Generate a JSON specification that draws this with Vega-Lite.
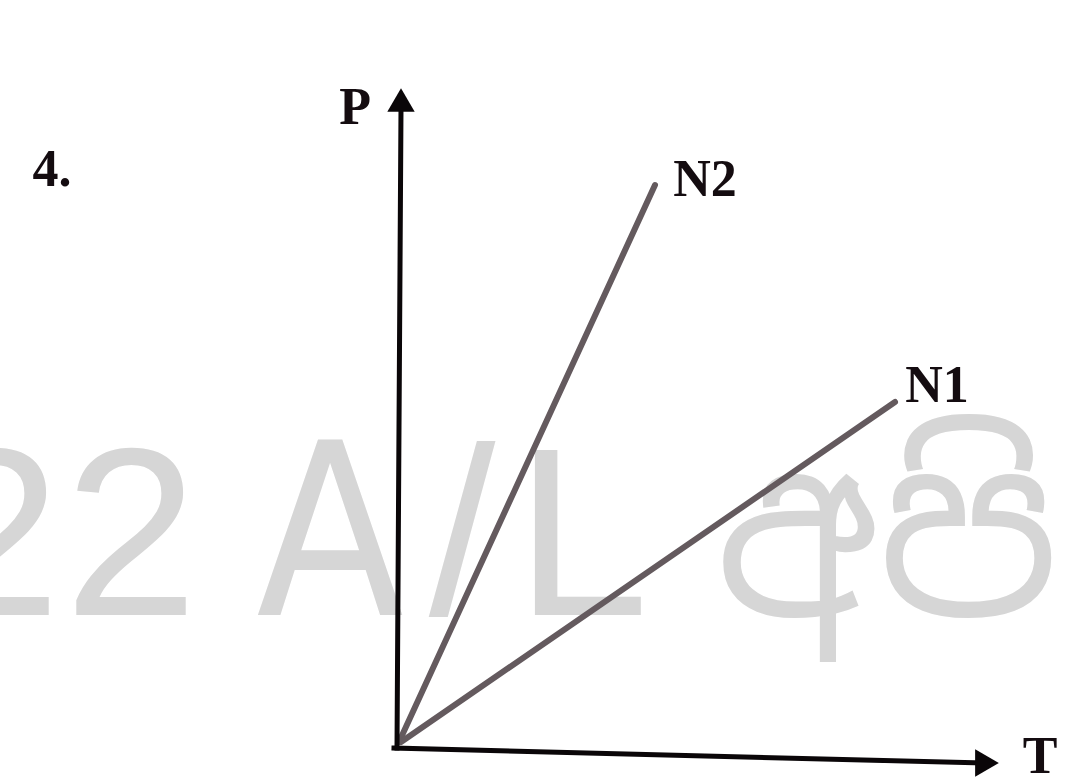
{
  "$schema": "https://vega.github.io/schema/vega-lite/v6.json",
  "width": 1073,
  "height": 782,
  "padding": 0,
  "autosize": {"type": "none"},
  "background": "white",
  "config": {"view": {"stroke": null}},
  "datasets": {
    "watermark": [
      {"text": "2", "font": "regular", "t": -403, "p": 133},
      {"text": "2", "font": "regular", "t": -266, "p": 133},
      {"text": "A", "font": "narrow", "t": -67, "p": 133},
      {"text": "/", "font": "regular", "t": 65, "p": 133},
      {"text": "L", "font": "regular", "t": 185, "p": 133}
    ],
    "watermarkSinhala": [
      {"text": "අපි", "t": 318, "p": 133}
    ],
    "axesLines": [
      {"name": "P axis", "t0": 0, "p0": 0, "t1": 4, "p1": 640},
      {"name": "T axis", "t0": -3, "p0": 0, "t1": 585, "p1": -15}
    ],
    "arrowUp": [{"t": 4, "p": 648}],
    "arrowRight": [{"t": 590, "p": -15}],
    "series": [
      {"series": "N2", "t0": 2, "p0": 6, "t1": 258, "p1": 563},
      {"series": "N1", "t0": 4, "p0": 6, "t1": 498, "p1": 346}
    ],
    "labels": [
      {"text": "N2", "t": 308, "p": 568},
      {"text": "N1", "t": 540, "p": 362},
      {"text": "P", "t": -42, "p": 640},
      {"text": "T", "t": 643, "p": -9},
      {"text": "4.", "t": -345, "p": 578}
    ]
  },
  "layer": [
    {
      "data": {"name": "watermark"},
      "transform": [{"filter": "datum.font == 'regular'"}],
      "mark": {"type": "text", "align": "center", "baseline": "alphabetic", "font": "Liberation Sans, Arial, sans-serif", "fontSize": 240, "color": "#d6d6d6"},
      "encoding": {
        "x": {"field": "t", "type": "quantitative", "scale": {"domain": [-397, 676], "nice": false, "zero": false}, "axis": null},
        "y": {"field": "p", "type": "quantitative", "scale": {"domain": [-34, 748], "nice": false, "zero": false}, "axis": null},
        "text": {"field": "text"}
      }
    },
    {
      "data": {"name": "watermark"},
      "transform": [{"filter": "datum.font == 'narrow'"}],
      "mark": {"type": "text", "align": "center", "baseline": "alphabetic", "font": "Liberation Sans Narrow, DejaVu Sans Condensed, sans-serif", "fontSize": 240, "color": "#d6d6d6"},
      "encoding": {
        "x": {"field": "t", "type": "quantitative"},
        "y": {"field": "p", "type": "quantitative"},
        "text": {"field": "text"}
      }
    },
    {
      "data": {"name": "watermarkSinhala"},
      "mark": {"type": "text", "align": "left", "baseline": "alphabetic", "font": "Noto Sans Sinhala, sans-serif", "fontSize": 230, "color": "#d6d6d6"},
      "encoding": {
        "x": {"field": "t", "type": "quantitative"},
        "y": {"field": "p", "type": "quantitative"},
        "text": {"field": "text"}
      }
    },
    {
      "data": {"name": "series"},
      "mark": {"type": "rule", "color": "#645a5e", "strokeWidth": 6, "strokeCap": "round"},
      "encoding": {
        "x": {"field": "t0", "type": "quantitative"},
        "y": {"field": "p0", "type": "quantitative"},
        "x2": {"field": "t1"},
        "y2": {"field": "p1"}
      }
    },
    {
      "data": {"name": "axesLines"},
      "mark": {"type": "rule", "color": "#0a0608", "strokeWidth": 5, "strokeCap": "square"},
      "encoding": {
        "x": {"field": "t0", "type": "quantitative"},
        "y": {"field": "p0", "type": "quantitative"},
        "x2": {"field": "t1"},
        "y2": {"field": "p1"}
      }
    },
    {
      "data": {"name": "arrowUp"},
      "mark": {"type": "point", "shape": "triangle-up", "size": 750, "filled": true, "color": "#0a0608", "opacity": 1},
      "encoding": {
        "x": {"field": "t", "type": "quantitative"},
        "y": {"field": "p", "type": "quantitative"}
      }
    },
    {
      "data": {"name": "arrowRight"},
      "mark": {"type": "point", "shape": "triangle-right", "size": 750, "filled": true, "color": "#0a0608", "opacity": 1},
      "encoding": {
        "x": {"field": "t", "type": "quantitative"},
        "y": {"field": "p", "type": "quantitative"}
      }
    },
    {
      "data": {"name": "labels"},
      "mark": {"type": "text", "align": "center", "baseline": "middle", "font": "Liberation Serif, serif", "fontWeight": "bold", "fontSize": 52, "color": "#140c10"},
      "encoding": {
        "x": {"field": "t", "type": "quantitative"},
        "y": {"field": "p", "type": "quantitative"},
        "text": {"field": "text"}
      }
    }
  ]
}
